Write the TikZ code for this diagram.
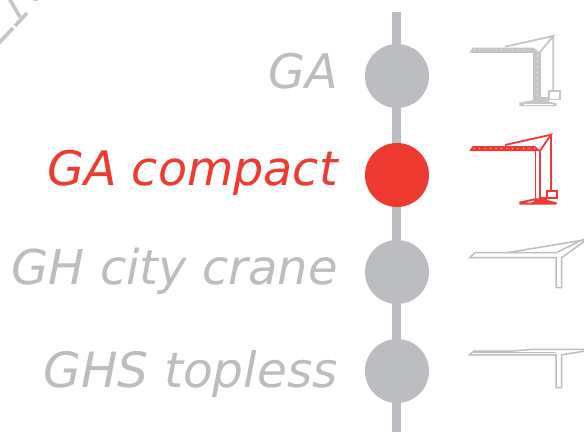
\documentclass[tikz,border=0pt]{standalone}
\usepackage{fontspec}
\setmainfont{DejaVu Sans}
\definecolor{gy}{HTML}{BCBDC0}
\definecolor{rd}{HTML}{EF3A32}
\definecolor{lgy}{HTML}{C4C5C7}
\tikzset{
  dot/.style={circle,fill=#1,minimum size=64pt,inner sep=0pt},
  lab/.style={anchor=base east,inner sep=0pt,text=#1,font=\fontsize{47.6}{48}\selectfont\itshape},
  trunk/.style={gy,line width=9pt},
  thin/.style={draw=gy,line width=1.5pt,line join=miter,fill=none},
}
\begin{document}
\begin{tikzpicture}[x=1pt,y=-1pt]
\useasboundingbox (0,0) rectangle (584,432);
\fill[white] (0,0) rectangle (584,432);
% trunk
\coordinate (top) at (396.5,12);
\coordinate (bot) at (396.5,432);
\draw[trunk] (top) -- (bot);
% dots
\node[dot=gy] (d1) at (397,76) {};
\node[dot=rd] (d2) at (397,175) {};
\node[dot=gy] (d3) at (397,272) {};
\node[dot=gy] (d4) at (397,371) {};
% labels
\node[lab=gy] (l1) at (338,88) {GA};
\node[lab=rd] (l2) at (338,185) {GA compact};
\node[lab=gy,font=\fontsize{48}{48}\selectfont\itshape] (l3) at (338,284) {GH city crane};
\node[lab=gy,font=\fontsize{48.6}{48}\selectfont\itshape] (l4) at (338,387) {GHS topless};
% clipped fragment top-left
\begin{scope}
\clip (0,0) rectangle (584,432);
\draw[lgy,line width=3.6pt] (-2,44) -- (13,28) (15,26) -- (27,13);
\draw[lgy,line width=3.6pt] (9,-2) -- (20,17);
\fill[lgy] (32,0) -- (39,0) -- (36,1.2) -- cycle;
\end{scope}
% crane 1 (GA)
\fill[lgy] (469.3,52.9) -- (472.7,47.5) -- (533,47.5) -- (540.5,52.9) -- cycle;
\fill[lgy] (533.2,52) rectangle (541,100);
\foreach \p in {474,479.5,...,538}{\fill[white] (\p,50) circle (.5pt);}
\foreach \q in {56,61.5,...,98}{\fill[white] (537,\q) circle (.55pt);}
\draw[lgy,line width=1.8pt] (505,46.7) -- (553.3,36) -- (540,52) (553.3,36) -- (553.3,91);
\draw[lgy,line width=1.7pt] (549,91) rectangle (560,99.5);
\fill[lgy] (540,97) rectangle (549,102);
\fill[lgy] (519.3,102.7) -- (533.3,100) -- (540,100) -- (556.7,103.3) -- (556.7,106) -- (519.3,106) -- cycle;
\fill[white] (524,103.9) rectangle (553,104.5);
% crane 2 (GA compact)
\fill[rd] (469.3,151) -- (472.7,146) -- (535,146) -- (540.7,151) -- cycle;
\foreach \p in {474,479.5,...,536}{\fill[white] (\p,148.4) circle (.5pt);}
\draw[rd,line width=1.8pt] (505,145) -- (551,134.7) -- (540,150.7) (551,134.7) -- (551,190.7);
\draw[rd,line width=1.9pt] (535.5,151) -- (535.5,199) (540.4,151) -- (540.4,199);
\draw[rd,line width=1.7pt] (547,191) rectangle (557.3,198.3);
\fill[rd] (540,197) rectangle (547,200.5);
\fill[rd] (519.3,201.7) -- (535,198.3) -- (540.7,198.3) -- (556.7,202.3) -- (556.7,204.5) -- (519.3,204.5) -- cycle;
\fill[white] (526,202.3) -- (534,200.6) -- (534,201.6) -- (530,202.6) -- cycle;
% crane 3 (GH city crane)
\draw[thin] (584,240) -- (508,252.5) -- (475,252.5) -- (469.8,257.7) -- (556,257.7) -- (556,287.7) -- (561.7,287.7) -- (561.7,257.7) -- (584,241.5);
\draw[thin] (508,252.5) -- (556.7,252.5) -- (584,239);
% crane 4 (GHS topless)
\draw[thin] (584,349.3) -- (533,349.3) -- (513,351) -- (474,351) -- (469.5,354.8) -- (556,354.8) -- (556,387.7) -- (561.7,387.7) -- (561.7,354.8) -- (584,351.2);
\draw[thin] (474,352.6) -- (556,352.6);
\end{tikzpicture}
\end{document}
